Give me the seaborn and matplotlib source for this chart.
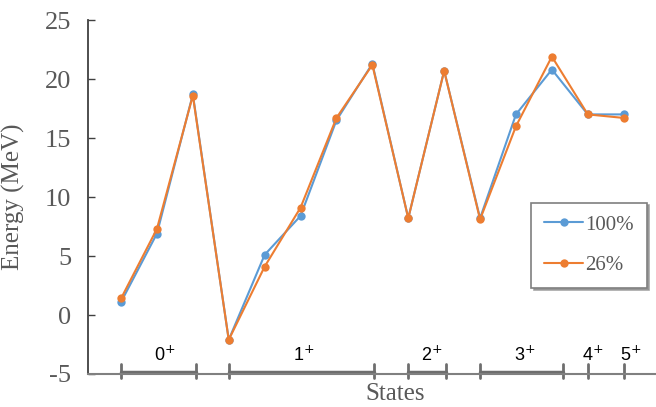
import matplotlib
matplotlib.use("Agg")
import matplotlib.pyplot as plt
import numpy as np
import pandas as pd
import seaborn as sns

# Data
state_index = list(range(15))
energy_100 = [1.1, 6.9, 18.7, -2.1, 5.1, 8.4, 16.5, 21.3, 8.2, 20.7, 8.2, 17.0, 20.8, 17.0, 17.0]
energy_26 = [1.4, 7.3, 18.6, -2.1, 4.1, 9.1, 16.7, 21.2, 8.2, 20.7, 8.1, 16.0, 21.9, 17.0, 16.7]
series_names = ["100%", "26%"]

# Spin groups along the x axis (first / last state index and label position)
group_labels = ["0$^{+}$", "1$^{+}$", "2$^{+}$", "3$^{+}$", "4$^{+}$", "5$^{+}$"]
group_start = [0.0, 3.0, 8.0, 10.0, 13.0, 14.0]
group_end = [2.1, 7.05, 9.05, 12.3, 13.0, 14.0]
group_label_x = [1.23, 5.1, 8.66, 11.25, 13.15, 14.2]

df = pd.DataFrame({
    "state": state_index * 2,
    "energy": energy_100 + energy_26,
    "series": [series_names[0]] * 15 + [series_names[1]] * 15,
})

sns.set_style("white")
plt.rcParams["font.family"] = ["Liberation Serif", "DejaVu Serif"]
plt.rcParams["axes.unicode_minus"] = False

gray = "#595959"
palette = {"100%": "#5B9BD5", "26%": "#ED7D31"}

fig = plt.figure(figsize=(6.56, 4.07), dpi=100)
ax = fig.add_axes([88 / 656, 1 - 374 / 407, 568 / 656, 354 / 407])

sns.lineplot(data=df, x="state", y="energy", hue="series", palette=palette,
             marker="o", markersize=6, markeredgewidth=0, linewidth=1.5,
             ax=ax)

ax.set_xlim(-0.92, 14.9)
ax.set_ylim(-5, 25)
ax.set_yticks(np.arange(-5, 26, 5))
ax.set_xticks([])
ax.tick_params(axis="y", direction="in", length=5, width=1, color="#404040",
               labelsize=19, labelcolor=gray, left=True, pad=12)

for side in ["top", "right"]:
    ax.spines[side].set_visible(False)
ax.spines["left"].set_color("#404040")
ax.spines["left"].set_linewidth(1.3)
ax.spines["bottom"].set_color("#808080")
ax.spines["bottom"].set_linewidth(1.5)

ax.set_ylabel("Energy (MeV)", fontsize=18, color=gray)
ax.yaxis.set_label_coords(-0.111, 0.5)
ax.set_xlabel("States", fontsize=18, color=gray)
ax.xaxis.set_label_coords(0.54, -0.025)

# Group brackets and labels
bracket_color = "#6e6e6e"
for s, e, lx, lab in zip(group_start, group_end, group_label_x, group_labels):
    ax.plot([s, s], [-5.35, -4.15], color=bracket_color, lw=2, clip_on=False)
    if e != s:
        ax.plot([e, e], [-5.35, -4.15], color=bracket_color, lw=2, clip_on=False)
        ax.plot([s, e], [-4.8, -4.8], color=bracket_color, lw=2.5, clip_on=False)
    ax.text(lx, -3.85, lab, ha="center", va="baseline", fontsize=13,
            family=["Liberation Sans", "DejaVu Sans"], color="black")

leg = ax.legend(loc="center", bbox_to_anchor=(0.783, 0.251, 0.198, 0.226),
                frameon=True, fancybox=False, shadow={"color": "#909090", "alpha": 0.8},
                edgecolor="#7f7f7f", fontsize=15, labelspacing=1.0,
                handlelength=1.9, handletextpad=0.1, borderpad=0.6)
leg.get_frame().set_linewidth(1.2)
for t in leg.get_texts():
    t.set_color(gray)

fig.savefig("out.png", dpi=100)
